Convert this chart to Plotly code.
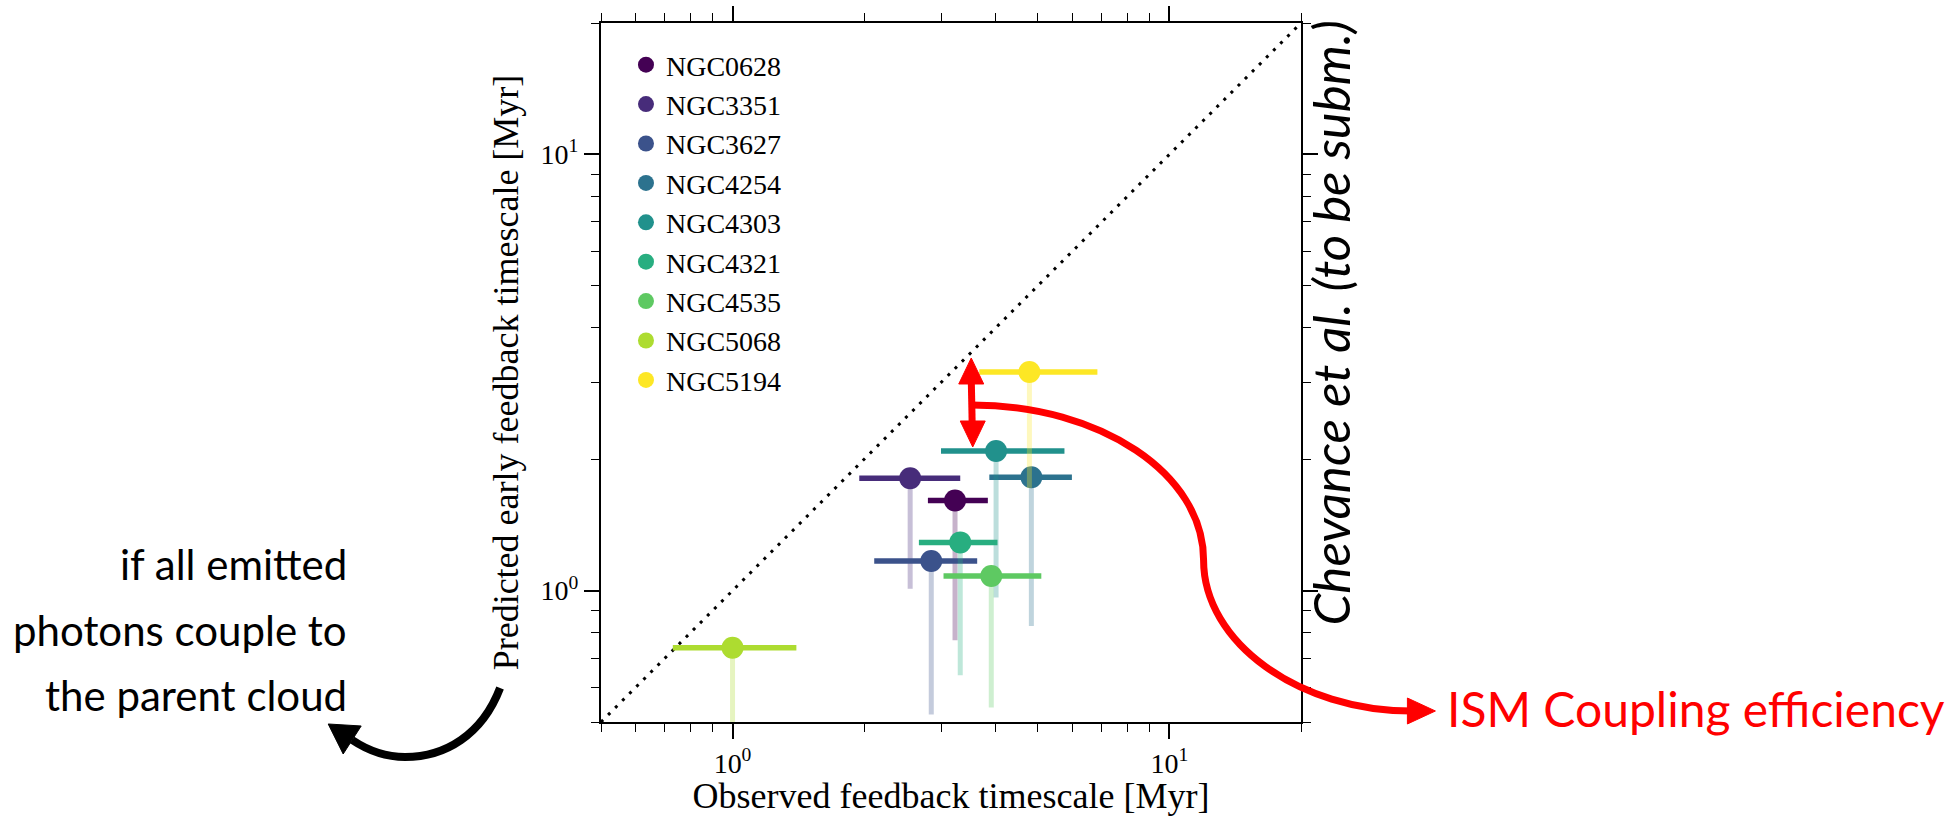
import numpy as np
import plotly.graph_objects as go

# Galaxy sample and timescales [Myr]
galaxies = ["NGC0628", "NGC3351", "NGC3627", "NGC4254", "NGC4303",
            "NGC4321", "NGC4535", "NGC5068", "NGC5194"]
colors = ["#440154", "#472c7a", "#3b528b", "#2c728e", "#21918c",
          "#28ae80", "#5ec962", "#addc30", "#fde725"]

t_obs = [3.23, 2.55, 2.85, 4.83, 4.01, 3.32, 3.91, 1.00, 4.78]
t_obs_lo = [2.80, 1.95, 2.11, 3.87, 3.00, 2.67, 3.04, 0.73, 3.67]
t_obs_hi = [3.84, 3.32, 3.63, 5.98, 5.75, 4.04, 5.09, 1.40, 6.84]
t_pred = [1.61, 1.81, 1.17, 1.82, 2.09, 1.29, 1.08, 0.74, 3.17]
t_pred_lo = [0.77, 1.01, 0.52, 0.83, 0.965, 0.64, 0.54, 0.30, 1.72]

axis_lim = [0.5, 20]
major_ticks = [1, 10]
major_labels = ["10<sup>0</sup>", "10<sup>1</sup>"]
minor_ticks = [0.5, 0.6, 0.7, 0.8, 0.9, 2, 3, 4, 5, 6, 7, 8, 9, 20]

# Figure geometry (pixels)
W, H = 1956, 816
L, R, T, B = 601, 1301.5, 23, 722


def P(x, y):
    """pixel position -> paper coordinates"""
    return (x - L) / (R - L), (B - y) / (B - T)


def path(cmds):
    out = []
    for c, pts in cmds:
        out.append(c + " ".join("%.5f,%.5f" % P(x, y) for x, y in pts))
    return " ".join(out)


def rgba(hexcol, a):
    h = hexcol.lstrip("#")
    return "rgba(%d,%d,%d,%.2f)" % (int(h[0:2], 16), int(h[2:4], 16), int(h[4:6], 16), a)


fig = go.Figure()

# one-to-one relation
fig.add_trace(go.Scatter(
    x=axis_lim, y=axis_lim, mode="lines", showlegend=False, hoverinfo="skip",
    line=dict(color="black", width=3, dash="3px,7px")))

for name, col, xo, xl, xh, yp, yl in zip(galaxies, colors, t_obs, t_obs_lo,
                                         t_obs_hi, t_pred, t_pred_lo):
    fig.add_trace(go.Scatter(
        x=[xo], y=[yp], mode="markers", name=name,
        marker=dict(size=22, color=col, line=dict(width=0)),
        error_x=dict(type="data", symmetric=False, array=[xh - xo],
                     arrayminus=[xo - xl], color=col, thickness=5.5, width=0),
        error_y=dict(type="data", symmetric=False, array=[0],
                     arrayminus=[yp - yl], color=rgba(col, 0.3), thickness=5, width=0),
    ))

serif = "Liberation Serif"
sans = "Lato"

axis_common = dict(
    type="log", range=[np.log10(axis_lim[0]), np.log10(axis_lim[1])],
    showline=True, linecolor="black", linewidth=2, mirror="ticks",
    ticks="outside", ticklen=15, tickwidth=1.6, tickcolor="black",
    tickmode="array", tickvals=major_ticks, ticktext=major_labels,
    showgrid=False, zeroline=False,
    tickfont=dict(family=serif, size=28, color="black"),
    minor=dict(ticks="outside", ticklen=8, tickwidth=1.3, tickcolor="black",
               tickmode="array", tickvals=minor_ticks, showgrid=False),
)

fig.update_xaxes(**axis_common,
                 title=dict(text="Observed feedback timescale [Myr]",
                            font=dict(family=serif, size=36, color="black"),
                            standoff=5))
fig.update_yaxes(**axis_common,
                 title=dict(text="Predicted early feedback timescale [Myr]",
                            font=dict(family=serif, size=36, color="black"),
                            standoff=11))

shapes = []
# black curved arrow
shapes.append(dict(type="path", xref="paper", yref="paper",
                   path=path([("M", [(500, 688)]),
                              ("C", [(482, 735), (445, 757), (405, 757)]),
                              ("C", [(385, 757), (367, 750), (352, 740)])]),
                   line=dict(color="black", width=8)))
shapes.append(dict(type="path", xref="paper", yref="paper",
                   path=path([("M", [(328, 724)]), ("L", [(361, 726)]),
                              ("L", [(343, 754)])]) + " Z",
                   fillcolor="black", line=dict(color="black", width=1)))
# red double arrow
shapes.append(dict(type="path", xref="paper", yref="paper",
                   path=path([("M", [(971.5, 378)]), ("L", [(972.5, 427)])]),
                   line=dict(color="red", width=7)))
shapes.append(dict(type="path", xref="paper", yref="paper",
                   path=path([("M", [(971.5, 358)]), ("L", [(959, 384)]),
                              ("L", [(984, 384)])]) + " Z",
                   fillcolor="red", line=dict(color="red", width=1)))
shapes.append(dict(type="path", xref="paper", yref="paper",
                   path=path([("M", [(973, 447)]), ("L", [(960.5, 421)]),
                              ("L", [(985.5, 421)])]) + " Z",
                   fillcolor="red", line=dict(color="red", width=1)))
# red S-curve towards the label
shapes.append(dict(type="path", xref="paper", yref="paper",
                   path=path([("M", [(972, 405)]),
                              ("C", [(1101, 405), (1204, 474), (1204, 560)]),
                              ("C", [(1204, 643), (1300, 711), (1412, 711)])]),
                   line=dict(color="red", width=7)))
shapes.append(dict(type="path", xref="paper", yref="paper",
                   path=path([("M", [(1436, 711)]), ("L", [(1408, 698)]),
                              ("L", [(1408, 724)])]) + " Z",
                   fillcolor="red", line=dict(color="red", width=1)))

annotations = []
for txt, yc in [("if all emitted", 564), ("photons couple to", 630),
                ("the parent cloud", 695)]:
    xp, yp = P(349, yc)
    annotations.append(dict(text=txt, x=xp, y=yp, xref="paper", yref="paper",
                            xanchor="right", yanchor="middle", showarrow=False,
                            font=dict(family=sans, size=42, color="black")))
xp, yp = P(1332, 322)
annotations.append(dict(text="<i>Chevance et al. (to be subm.)</i>", x=xp, y=yp,
                        xref="paper", yref="paper", textangle=-90,
                        xanchor="center", yanchor="middle", showarrow=False,
                        font=dict(family=sans, size=51, color="black")))
xp, yp = P(1446, 708)
annotations.append(dict(text="ISM Coupling efficiency", x=xp, y=yp,
                        xref="paper", yref="paper", xanchor="left",
                        yanchor="middle", showarrow=False,
                        font=dict(family=sans, size=48, color="red")))

lx, ly = P(626, 40)
fig.update_layout(
    width=W, height=H,
    margin=dict(l=L, r=W - R, t=T, b=H - B, autoexpand=False),
    paper_bgcolor="white", plot_bgcolor="white",
    shapes=shapes, annotations=annotations,
    legend=dict(x=lx, y=ly, xanchor="left", yanchor="top",
                font=dict(family=serif, size=28, color="black"),
                bgcolor="rgba(0,0,0,0)", borderwidth=0, itemsizing="trace"),
    showlegend=True,
)

fig.write_html("out.html")
